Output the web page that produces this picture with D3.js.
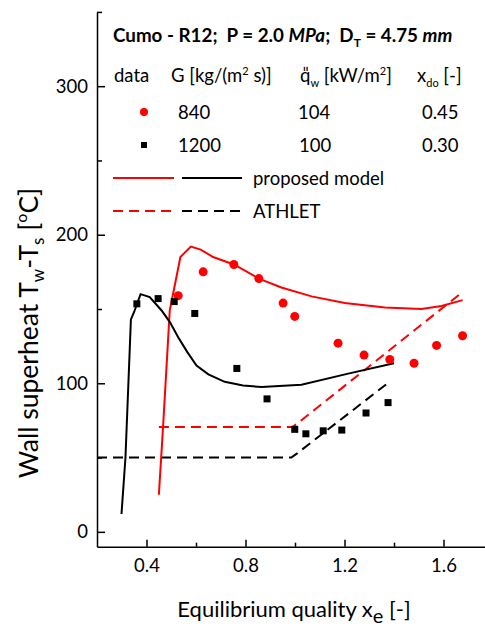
<!DOCTYPE html>
<html>
<head>
<meta charset="utf-8">
<script src="https://cdn.jsdelivr.net/npm/d3@7"></script>
<style>
  body { margin: 0; background: #fff; }
  svg { display: block; font-family: Lato, "Open Sans", sans-serif; }
  .axis path, .axis line { stroke: #000; stroke-width: 1.5px; }
  .axis text { font-size: 18.5px; font-family: Lato, sans-serif; fill: #000; }
</style>
</head>
<body>
<div id="chart"></div>
<script>
// measured data, 840 kg/m2s (red circles) and 1200 kg/m2s (black squares)
var redX = [0.528, 0.629, 0.753, 0.854, 0.952, 0.999, 1.174, 1.279, 1.383, 1.481, 1.572, 1.677];
var redY = [159, 175, 180, 170.5, 154, 145, 127, 119, 116, 113.5, 125.5, 132];
var blackX = [0.361, 0.447, 0.512, 0.595, 0.765, 0.887, 0.999, 1.044, 1.114, 1.189, 1.287, 1.376];
var blackY = [153.5, 157, 155, 147, 110, 89.5, 69, 66, 68, 68.5, 80, 87];

// proposed model
var redModelX = [0.450, 0.467, 0.494, 0.537, 0.579, 0.619, 0.669, 0.753, 0.854, 0.945, 1.067, 1.201, 1.363, 1.511, 1.592, 1.677];
var redModelY = [25, 71, 149, 185, 192, 190, 185, 180, 170.5, 164.5, 158.5, 154, 151, 150, 152, 156];
var blackModelX = [0.299, 0.315, 0.337, 0.350, 0.376, 0.413, 0.461, 0.495, 0.528, 0.565, 0.602, 0.650, 0.716, 0.790, 0.865, 1.026, 1.215, 1.400];
var blackModelY = [12, 50, 143, 148, 160, 158, 149, 141, 131, 121, 112, 106, 101, 98.5, 97.5, 99, 106.5, 113.5];

// ATHLET
var redAthletX = [0.45, 0.99, 1.01, 1.666];
var redAthletY = [70.6, 70.6, 73, 160];
var blackAthletX = [0.2, 0.985, 1.01, 1.374];
var blackAthletY = [50, 50, 53, 100];

var xMajor = [0.4, 0.8, 1.2, 1.6];
var xMinor = [0.6, 1.0, 1.4];
var yMajor = [0, 100, 200, 300];
var yMinor = [50, 150, 250, 350];

var W = 485, H = 628;
var svg = d3.select("#chart").append("svg").attr("width", W).attr("height", H);

var xScale = d3.scaleLinear().domain([0.2, 1.8]).range([97, 493]);
var yScale = d3.scaleLinear().domain([-10, 350]).range([546.7, 11.9]);

// axes, ticks pointing inward
svg.append("g").attr("class", "axis")
  .attr("transform", "translate(0," + yScale(-10) + ")")
  .call(d3.axisBottom(xScale).tickValues(xMajor).tickFormat(d3.format(".1f")).tickSizeInner(-7).tickSizeOuter(0).tickPadding(12));
svg.append("g").attr("class", "axis")
  .attr("transform", "translate(0," + yScale(-10) + ")")
  .call(d3.axisBottom(xScale).tickValues(xMinor).tickFormat("").tickSizeInner(-4).tickSizeOuter(0))
  .select(".domain").remove();
svg.append("g").attr("class", "axis")
  .attr("transform", "translate(" + xScale(0.2) + ",0)")
  .call(d3.axisLeft(yScale).tickValues(yMajor).tickSizeInner(-8).tickSizeOuter(0).tickPadding(9));
svg.append("g").attr("class", "axis")
  .attr("transform", "translate(" + xScale(0.2) + ",0)")
  .call(d3.axisLeft(yScale).tickValues(yMinor).tickFormat("").tickSizeInner(-5).tickSizeOuter(0))
  .select(".domain").remove();

// lines
function drawLine(xs, ys, color, dash) {
  var pts = xs.map(function(d, i) { return [d, ys[i]]; });
  var line = d3.line().x(function(d) { return xScale(d[0]); }).y(function(d) { return yScale(d[1]); });
  svg.append("path").datum(pts)
    .attr("d", line)
    .attr("fill", "none")
    .attr("stroke", color)
    .attr("stroke-width", 2)
    .attr("stroke-dasharray", dash || null);
}
drawLine(redAthletX, redAthletY, "#ff0000", "10,6");
drawLine(blackAthletX, blackAthletY, "#000", "10,6");
drawLine(redModelX, redModelY, "#ff0000");
drawLine(blackModelX, blackModelY, "#000");

// points
svg.selectAll(".red").data(redX).enter().append("circle")
  .attr("cx", function(d) { return xScale(d); })
  .attr("cy", function(d, i) { return yScale(redY[i]); })
  .attr("r", 4.5).attr("fill", "#ff0000");
svg.selectAll(".blk").data(blackX).enter().append("rect")
  .attr("x", function(d) { return xScale(d) - 3.5; })
  .attr("y", function(d, i) { return yScale(blackY[i]) - 3.5; })
  .attr("width", 7).attr("height", 7).attr("fill", "#000");

// axis titles
var xt = svg.append("text").attr("x", 294).attr("y", 617).attr("text-anchor", "middle")
  .style("font-size", "22px");
xt.append("tspan").text("Equilibrium quality x");
xt.append("tspan").attr("dy", 6).style("font-size", "20px").text("e");
xt.append("tspan").attr("dy", -6).text(" [-]");

var yt = svg.append("text").attr("transform", "translate(38,333) rotate(-90)")
  .attr("text-anchor", "middle").style("font-size", "26.5px");
yt.append("tspan").text("Wall superheat T");
yt.append("tspan").attr("dy", 6).style("font-size", "17px").text("w");
yt.append("tspan").attr("dy", -6).text("-T");
yt.append("tspan").attr("dy", 6).style("font-size", "17px").text("s");
yt.append("tspan").attr("dy", -6).text(" [");
yt.append("tspan").attr("dy", -11).style("font-size", "16px").text("o");
yt.append("tspan").attr("dy", 11).text("C]");

// legend block
var title = svg.append("text").attr("x", 113).attr("y", 42).style("font-size", "18.8px").style("font-weight", "bold");
title.append("tspan").text("Cumo - R12;\u00a0 P = 2.0 ");
title.append("tspan").style("font-style", "italic").text("MPa");
title.append("tspan").text(";\u00a0 D");
title.append("tspan").attr("dy", 5).style("font-size", "12px").text("T");
title.append("tspan").attr("dy", -5).text(" = 4.75 ");
title.append("tspan").style("font-style", "italic").text("mm");

function txt(x, y, s) {
  return svg.append("text").attr("x", x).attr("y", y).style("font-size", "18.5px").text(s);
}
txt(114, 82, "data");
var g = svg.append("text").attr("x", 171).attr("y", 82).style("font-size", "18.5px");
g.append("tspan").text("G [kg/(m");
g.append("tspan").attr("dy", -7).style("font-size", "11px").text("2");
g.append("tspan").attr("dy", 7).text(" s)]");
var q = svg.append("text").attr("x", 300).attr("y", 82).style("font-size", "18.5px");
q.append("tspan").text("q\u030E");
q.append("tspan").attr("dy", 5).style("font-size", "11px").text("w");
q.append("tspan").attr("dy", -5).text(" [kW/m");
q.append("tspan").attr("dy", -7).style("font-size", "11px").text("2");
q.append("tspan").attr("dy", 7).text("]");
var xd = svg.append("text").attr("x", 417).attr("y", 82).style("font-size", "18.5px");
xd.append("tspan").text("x");
xd.append("tspan").attr("dy", 5).style("font-size", "11px").text("do");
xd.append("tspan").attr("dy", -5).text(" [-]");

svg.append("circle").attr("cx", 144).attr("cy", 112).attr("r", 4).attr("fill", "#ff0000");
txt(178, 119, "840"); txt(298, 119, "104"); txt(422, 119, "0.45");
svg.append("rect").attr("x", 141).attr("y", 142).attr("width", 6).attr("height", 6).attr("fill", "#000");
txt(178, 152, "1200"); txt(299, 152, "100"); txt(422, 152, "0.30");

function legLine(x1, x2, y, color, dash) {
  svg.append("line").attr("x1", x1).attr("x2", x2).attr("y1", y).attr("y2", y)
    .attr("stroke", color).attr("stroke-width", 2).attr("stroke-dasharray", dash || null);
}
legLine(113, 174, 178, "#ff0000");
legLine(182, 242, 178, "#000");
txt(253, 185, "proposed model");
legLine(113, 174, 211, "#ff0000", "10,6");
legLine(182, 242, 211, "#000", "10,6");
txt(253, 218, "ATHLET");
</script>
</body>
</html>
